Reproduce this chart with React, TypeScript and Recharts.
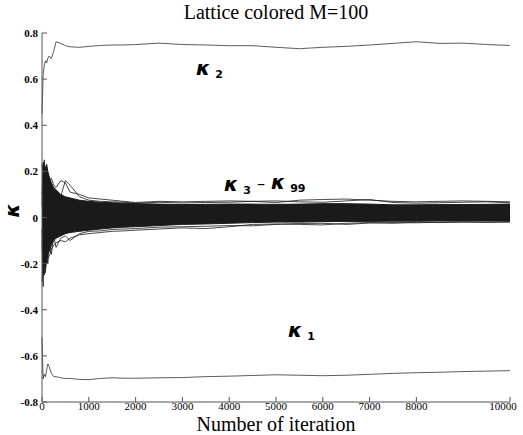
import { ComposedChart, Line, Area, XAxis, YAxis, ReferenceDot } from 'recharts';

// iteration sample points (denser at the start where the curves swing)
const iterations = [0, 25, 50, 75, 100, 125, 150, 200, 250, 300, 400, 500, 600, 800, 1000, 1250, 1500, 1750, 2000, 2500, 3000, 3500, 4000, 4500, 5000, 5500, 6000, 6500, 7000, 7500, 8000, 8500, 9000, 9500, 10000];

const kappa2 = [0.45, 0.62, 0.66, 0.68, 0.67, 0.69, 0.7, 0.69, 0.72, 0.762, 0.755, 0.745, 0.74, 0.738, 0.742, 0.746, 0.748, 0.748, 0.75, 0.756, 0.75, 0.748, 0.745, 0.745, 0.738, 0.732, 0.738, 0.742, 0.748, 0.755, 0.762, 0.755, 0.756, 0.75, 0.746];

const kappa1 = [-0.52, -0.7, -0.68, -0.69, -0.66, -0.635, -0.645, -0.675, -0.69, -0.69, -0.695, -0.698, -0.698, -0.702, -0.703, -0.698, -0.695, -0.697, -0.697, -0.695, -0.694, -0.69, -0.688, -0.685, -0.682, -0.684, -0.686, -0.684, -0.68, -0.676, -0.673, -0.671, -0.668, -0.666, -0.664];

// dense core of kappa_3 .. kappa_99
const bandHigh = [0.05, 0.22, 0.24, 0.2, 0.23, 0.2, 0.18, 0.15, 0.13, 0.12, 0.1, 0.09, 0.085, 0.075, 0.07, 0.066, 0.064, 0.062, 0.06, 0.058, 0.056, 0.057, 0.058, 0.058, 0.057, 0.058, 0.06, 0.06, 0.058, 0.055, 0.055, 0.056, 0.056, 0.057, 0.058];
const bandLow = [-0.05, -0.25, -0.2, -0.22, -0.18, -0.16, -0.15, -0.12, -0.1, -0.09, -0.08, -0.07, -0.065, -0.06, -0.055, -0.05, -0.045, -0.042, -0.04, -0.035, -0.03, -0.028, -0.025, -0.022, -0.02, -0.02, -0.018, -0.017, -0.017, -0.016, -0.016, -0.015, -0.015, -0.015, -0.015];

// a few stray curves at the edges of the band
const upperStray = [0.23, 0.18, 0.25, 0.15, 0.2, 0.17, 0.16, 0.17, 0.14, 0.13, 0.16, 0.15, 0.11, 0.1, 0.085, 0.08, 0.075, 0.07, 0.065, 0.07, 0.068, 0.07, 0.072, 0.07, 0.065, 0.075, 0.078, 0.08, 0.075, 0.07, 0.068, 0.07, 0.072, 0.07, 0.068];
const lowerStray = [-0.28, -0.2, -0.25, -0.15, -0.2, -0.18, -0.17, -0.14, -0.12, -0.11, -0.1, -0.105, -0.09, -0.075, -0.07, -0.065, -0.06, -0.058, -0.055, -0.05, -0.045, -0.048, -0.04, -0.03, -0.028, -0.03, -0.032, -0.025, -0.022, -0.025, -0.02, -0.022, -0.02, -0.02, -0.018];
const upperStray2 = [0.1, 0.24, 0.12, 0.22, 0.1, 0.19, 0.12, 0.12, 0.1, 0.11, 0.09, 0.16, 0.14, 0.09, 0.075, 0.07, 0.068, 0.066, 0.062, 0.066, 0.063, 0.065, 0.066, 0.07, 0.072, 0.068, 0.066, 0.072, 0.078, 0.065, 0.062, 0.064, 0.066, 0.068, 0.064];
const lowerStray2 = [-0.1, -0.3, -0.12, -0.24, -0.1, -0.2, -0.1, -0.16, -0.08, -0.13, -0.09, -0.08, -0.1, -0.07, -0.06, -0.058, -0.052, -0.05, -0.048, -0.042, -0.04, -0.038, -0.035, -0.036, -0.03, -0.026, -0.025, -0.03, -0.024, -0.022, -0.023, -0.02, -0.019, -0.021, -0.02];

const xTicks = [0, 1000, 2000, 3000, 4000, 5000, 6000, 7000, 8000, 9000, 10000];
const yTicks = [-0.8, -0.6, -0.4, -0.2, 0, 0.2, 0.4, 0.6, 0.8];

const data = iterations.map((it, i) => ({
  it,
  k1: kappa1[i],
  k2: kappa2[i],
  band: [bandLow[i], bandHigh[i]],
  up: upperStray[i],
  lo: lowerStray[i],
  up2: upperStray2[i],
  lo2: lowerStray2[i],
}));

const ink = '#1a1a1a';
const serif = '"Liberation Serif", "Times New Roman", serif';

function XTick({ x, y, payload }: any) {
  return (
    <text x={x} y={y + 6} textAnchor="middle" style={{ fontFamily: serif, fontSize: 11, fill: '#000' }}>
      {payload.value}
    </text>
  );
}

function YTick({ x, y, payload }: any) {
  return (
    <text x={x} y={y + 4} textAnchor="end" style={{ fontFamily: serif, fontSize: 11, fontWeight: 'bold', fill: '#000' }}>
      {payload.value}
    </text>
  );
}

function KappaLabel({ viewBox, sub, sub2 }: any) {
  const x = viewBox.x;
  const y = viewBox.y;
  return (
    <text x={x} y={y} fill="#000" fontFamily='"DejaVu Sans", sans-serif'>
      <tspan fontSize={20} fontStyle="italic" fontWeight="bold">κ</tspan>
      <tspan fontSize={11} fontWeight="bold" dx={5} dy={3}>{sub}</tspan>
      {sub2 && (
        <>
          <tspan fontSize={16} dx={6} dy={-5}>–</tspan>
          <tspan fontSize={20} fontStyle="italic" fontWeight="bold" dx={6}>κ</tspan>
          <tspan fontSize={11} fontWeight="bold" dx={5} dy={3}>{sub2}</tspan>
        </>
      )}
    </text>
  );
}

export default function App() {
  return (
    <div style={{ position: 'absolute', left: 0, top: 0, width: 523, height: 435, background: '#fff' }}>
      <div
        style={{
          position: 'absolute',
          top: 1,
          left: 42,
          width: 468,
          textAlign: 'center',
          fontFamily: serif,
          fontSize: 20,
        }}
      >
        Lattice colored M=100
      </div>
      <div
        style={{
          position: 'absolute',
          top: 415,
          left: 42,
          width: 468,
          textAlign: 'center',
          fontFamily: serif,
          fontSize: 20,
          lineHeight: '18px',
        }}
      >
        Number of iteration
      </div>
      <ComposedChart width={523} height={435} data={data} margin={{ top: 33, right: 13, bottom: 0, left: 0 }}>
        <XAxis
          dataKey="it"
          type="number"
          domain={[0, 10000]}
          ticks={xTicks}
          tickSize={-5}
          tickMargin={7}
          tick={<XTick />}
          stroke="#555"
          height={33}
        />
        <XAxis
          xAxisId="top"
          orientation="top"
          type="number"
          domain={[0, 10000]}
          ticks={xTicks}
          tickSize={-5}
          tick={false}
          stroke="#555"
          height={0}
        />
        <YAxis
          type="number"
          domain={[-0.8, 0.8]}
          ticks={yTicks}
          tickSize={-5}
          tickMargin={9}
          tick={<YTick />}
          stroke="#555"
          width={42}
          label={{
            value: 'κ',
            angle: -90,
            position: 'insideLeft',
            offset: 12,
            style: { fontFamily: '"DejaVu Sans", sans-serif', fontSize: 20, fontStyle: 'italic', fontWeight: 'bold', fill: '#000' },
          }}
        />
        <YAxis
          yAxisId="right"
          orientation="right"
          type="number"
          domain={[-0.8, 0.8]}
          ticks={yTicks}
          tickSize={-5}
          tick={false}
          stroke="#555"
          width={0}
        />
        <Area dataKey="band" stroke={ink} strokeWidth={1} fill={ink} fillOpacity={1} isAnimationActive={false} />
        <Line dataKey="up" stroke={ink} strokeWidth={0.8} dot={false} isAnimationActive={false} />
        <Line dataKey="lo" stroke={ink} strokeWidth={0.8} dot={false} isAnimationActive={false} />
        <Line dataKey="up2" stroke={ink} strokeWidth={0.8} dot={false} isAnimationActive={false} />
        <Line dataKey="lo2" stroke={ink} strokeWidth={0.8} dot={false} isAnimationActive={false} />
        <Line dataKey="k2" stroke="#333" strokeWidth={0.8} dot={false} isAnimationActive={false} />
        <Line dataKey="k1" stroke="#333" strokeWidth={0.8} dot={false} isAnimationActive={false} />
        <ReferenceDot x={3290} y={0.62} r={0} stroke="none" label={<KappaLabel sub="2" />} />
        <ReferenceDot x={3890} y={0.117} r={0} stroke="none" label={<KappaLabel sub="3" sub2="99" />} />
        <ReferenceDot x={5256} y={-0.52} r={0} stroke="none" label={<KappaLabel sub="1" />} />
      </ComposedChart>
    </div>
  );
}
